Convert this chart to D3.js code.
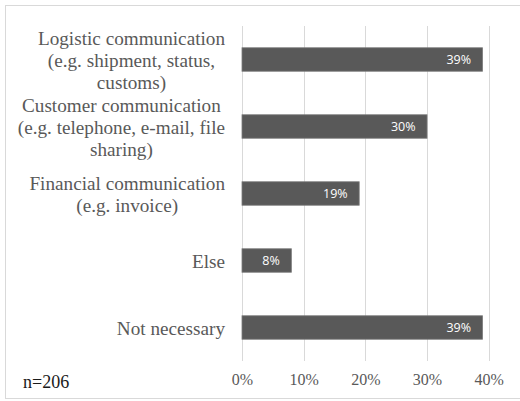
<!DOCTYPE html>
<html>
<head>
<meta charset="utf-8">
<script src="https://cdn.jsdelivr.net/npm/d3@7"></script>
<style>
  html, body { margin: 0; padding: 0; background: #fff; }
  svg { display: block; }
</style>
</head>
<body>
<svg id="chart" width="520" height="401"></svg>
<script>
// Share of respondents per communication purpose
const categories = [
  ["Logistic communication", "(e.g. shipment, status,", "customs)"],
  ["Customer communication", "(e.g. telephone, e-mail, file", "sharing)"],
  ["Financial communication", "(e.g. invoice)"],
  ["Else"],
  ["Not necessary"]
];
const values = [0.39, 0.30, 0.19, 0.08, 0.39];
const tickValues = [0, 0.1, 0.2, 0.3, 0.4];
const sampleNote = "n=206";

const svg = d3.select("#chart");
const textGray = "#595959";

// outer frame
svg.append("rect")
  .attr("x", 5.5).attr("y", 5.5)
  .attr("width", 520).attr("height", 393)
  .attr("fill", "none").attr("stroke", "#d9d9d9");

const x = d3.scaleLinear().domain([0, 0.4]).range([242, 488.7]);
const y = d3.scaleBand()
  .domain(d3.range(categories.length))
  .range([26, 361])
  .paddingInner(0.65)
  .paddingOuter(0.325);

// vertical gridlines
svg.append("g")
  .selectAll("line")
  .data(tickValues)
  .join("line")
  .attr("x1", d => Math.round(x(d)) + 0.5)
  .attr("x2", d => Math.round(x(d)) + 0.5)
  .attr("y1", 26).attr("y2", 361)
  .attr("stroke", "#d9d9d9").attr("stroke-width", 1);

// x axis labels
const xAxis = d3.axisBottom(x)
  .tickValues(tickValues)
  .tickFormat(d3.format(".0%"))
  .tickSize(0)
  .tickPadding(0);
const gx = svg.append("g").attr("transform", "translate(0,361)").call(xAxis);
gx.select(".domain").remove();
gx.selectAll("text")
  .attr("y", 24).attr("dy", null)
  .attr("font-family", "'Liberation Serif', 'Times New Roman', serif")
  .attr("font-size", "16px")
  .attr("fill", textGray);

// bars
svg.append("g")
  .selectAll("rect")
  .data(values)
  .join("rect")
  .attr("x", x(0))
  .attr("y", (d, i) => y(i))
  .attr("width", d => x(d) - x(0))
  .attr("height", y.bandwidth())
  .attr("fill", "#595959")
  .attr("stroke", "#7a7a7a")
  .attr("stroke-width", 0.8);

// value labels inside bars
svg.append("g")
  .selectAll("text")
  .data(values)
  .join("text")
  .attr("x", d => x(d) - 11.5)
  .attr("y", (d, i) => y(i) + y.bandwidth() / 2 + 4.5)
  .attr("text-anchor", "end")
  .attr("font-family", "'Open Sans', sans-serif")
  .attr("font-size", "12.5px")
  .attr("fill", "#ffffff")
  .text(d => d3.format(".0%")(d));

// category labels, wrapped lines centred on the widest line
const lineHeight = 22;
const labelRight = 225;
const labels = svg.append("g")
  .attr("font-family", "'Liberation Serif', 'Times New Roman', serif")
  .attr("font-size", "19.2px")
  .attr("fill", textGray);

categories.forEach((lines, i) => {
  const cy = y(i) + y.bandwidth() / 2;
  const g = labels.append("g");
  const texts = g.selectAll("text")
    .data(lines)
    .join("text")
    .attr("text-anchor", "middle")
    .attr("y", (d, j) => cy + 7 + (j - (lines.length - 1) / 2) * lineHeight)
    .text(d => d);
  const widest = d3.max(texts.nodes(), n => n.getComputedTextLength());
  texts.attr("x", labelRight - widest / 2);
});

// sample size note
svg.append("text")
  .attr("x", 23).attr("y", 388)
  .attr("font-family", "'Liberation Serif', 'Times New Roman', serif")
  .attr("font-size", "18px")
  .attr("fill", "#1a1a1a")
  .text(sampleNote);
</script>
</body>
</html>
